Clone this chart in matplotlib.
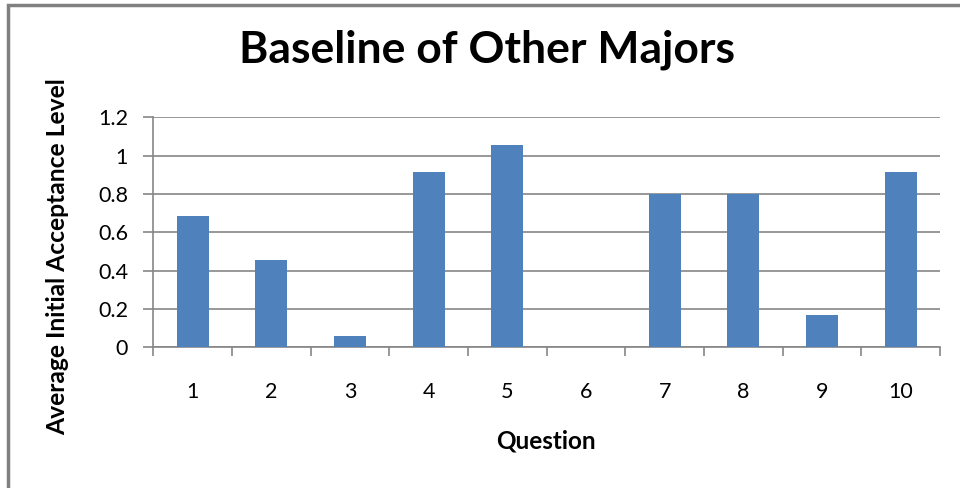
import numpy as np
import matplotlib.pyplot as plt
from matplotlib.patches import Rectangle

questions = ['1', '2', '3', '4', '5', '6', '7', '8', '9', '10']
acceptance = [0.686, 0.457, 0.057, 0.914, 1.057, 0.0, 0.8, 0.8, 0.171, 0.914]
yticks = [0, 0.2, 0.4, 0.6, 0.8, 1.0, 1.2]
ytick_labels = ['0', '0.2', '0.4', '0.6', '0.8', '1', '1.2']

plt.rcParams['font.family'] = ['Lato', 'DejaVu Sans']
grey = '#868686'
bar_col = '#4F81BD'

fig = plt.figure(figsize=(9.6, 4.88), dpi=100)
ax = fig.add_axes([153.3/960, 1-347.3/488, (940-153.3)/960, (347.3-117.3)/488])

x = np.arange(len(questions))
ax.bar(x, acceptance, width=0.41, color=bar_col, zorder=3)

ax.set_xlim(-0.5, len(questions)-0.5)
ax.set_ylim(0, 1.2)
ax.set_yticks(yticks)
ax.set_yticklabels(ytick_labels)
ax.set_xticks(x)
ax.set_xticklabels(questions)
ax.set_xticks(np.arange(-0.5, len(questions)), minor=True)

ax.yaxis.grid(True, color=grey, lw=1.2, zorder=0)
ax.set_axisbelow(True)
for s in ['top', 'right']:
    ax.spines[s].set_visible(False)
for s in ['left', 'bottom']:
    ax.spines[s].set_color(grey)
    ax.spines[s].set_linewidth(1.2)

ax.tick_params(axis='y', length=7.2, width=1.2, color=grey, pad=11, labelsize=15.5)
ax.tick_params(axis='x', which='major', length=0, pad=25, labelsize=15.5)
ax.tick_params(axis='x', which='minor', length=6.5, width=1.2, color=grey)

fig.text(487/960, 1-50/488, 'Baseline of Other Majors', ha='center', va='center',
         fontsize=32, fontweight='bold')
fig.text(58/960, 1-257/488, 'Average Initial Acceptance Level', rotation=90,
         ha='center', va='center', fontsize=17.7, fontweight='bold')
fig.text(546/960, 1-441/488, 'Question', ha='center', va='center',
         fontsize=17.5, fontweight='bold')

# outer frame of the chart area (only left and top edges are visible)
fig.patches.append(Rectangle((8/960, -0.1), 1.1, 1.1 - 5/488, transform=fig.transFigure,
                             fill=False, edgecolor='#808080', lw=2.5))

fig.savefig('out.png', dpi=100)
